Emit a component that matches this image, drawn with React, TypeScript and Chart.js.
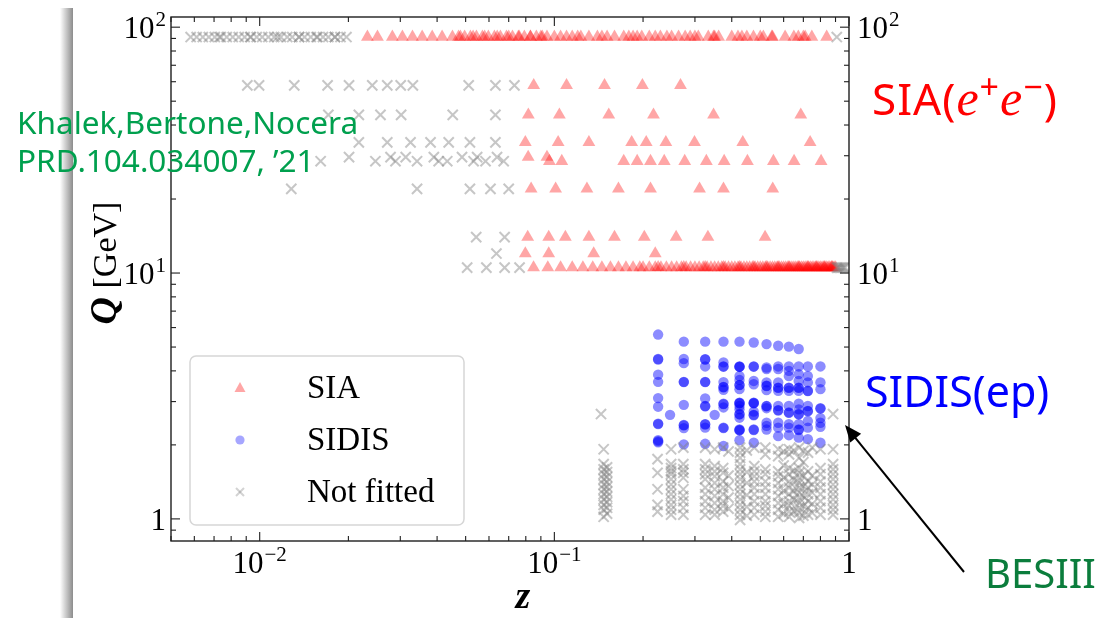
import React, { useEffect, useRef } from 'react';
import { Chart, registerables } from 'chart.js';

Chart.register(...registerables);

const W = 1099;
const H = 618;

// ---------------- axis ranges & tick labels ----------------
const xRange = [0.005, 1];
const yRange = [0.813, 110];
const xTickValues = [0.01, 0.1, 1];
const xTickLabels = [['10', '−2'], ['10', '−1'], ['1', '']];
const yTickValues = [1, 10, 100];
const yTickLabels = [['1', ''], ['10', '1'], ['10', '2']];
const legendLabels = ['SIA', 'SIDIS', 'Not fitted'];

// ---------------- SIA (fitted) rows: z values at fixed Q ----------------
const siaZ_912 = [0.0232, 0.0251, 0.0282, 0.0305, 0.033, 0.0356, 0.0385, 0.0416, 0.0451, 0.0473, 0.048, 0.0496, 0.0519, 0.053, 0.0544, 0.057, 0.058, 0.0597, 0.0626, 0.064, 0.0656, 0.0688, 0.07, 0.0721, 0.0755, 0.076, 0.0791, 0.0829, 0.083, 0.0869, 0.09, 0.091, 0.0944, 0.1, 0.105, 0.11, 0.115, 0.12, 0.123, 0.131, 0.14, 0.145, 0.151, 0.16, 0.172, 0.179, 0.185, 0.191, 0.198, 0.21, 0.22, 0.229, 0.241, 0.25, 0.264, 0.278, 0.289, 0.3, 0.308, 0.333, 0.347, 0.35, 0.361, 0.4, 0.42, 0.433, 0.45, 0.474, 0.5, 0.512, 0.547, 0.55, 0.607, 0.65, 0.673, 0.7, 0.71, 0.748, 0.84];
const siaZ_58 = [0.0851, 0.11, 0.148, 0.199, 0.268];
const siaZ_44 = [0.0816, 0.104, 0.153, 0.217, 0.347, 0.686];
const siaZ_34 = [0.0797, 0.103, 0.131, 0.183, 0.205, 0.239, 0.299, 0.436, 0.738];
const siaZ_296 = [0.0815, 0.0944];
const siaZ_285 = [0.0962, 0.106, 0.172, 0.191, 0.212, 0.236, 0.277, 0.328, 0.377, 0.452, 0.554, 0.651, 0.804];
const siaZ_22 = [0.0834, 0.101, 0.129, 0.165, 0.212, 0.311, 0.375, 0.551];
const siaZ_14 = [0.0812, 0.0957, 0.109, 0.131, 0.16, 0.202, 0.259, 0.332, 0.519];
const siaZ_12 = [0.0797, 0.0957, 0.136, 0.22];
const siaZ_1052 = [0.085, 0.095, 0.105, 0.115, 0.125, 0.135, 0.145, 0.155, 0.165, 0.175, 0.185, 0.195,
  0.2, 0.21, 0.22, 0.23, 0.24, 0.25, 0.26, 0.27, 0.28, 0.29, 0.3, 0.31, 0.32, 0.33, 0.34, 0.35, 0.36, 0.37, 0.38, 0.39,
  0.4, 0.41, 0.42, 0.43, 0.44, 0.45, 0.46, 0.47, 0.48, 0.49, 0.5, 0.51, 0.52, 0.53, 0.54, 0.55, 0.56, 0.57, 0.58, 0.59,
  0.6, 0.61, 0.62, 0.63, 0.64, 0.65, 0.66, 0.67, 0.68, 0.69, 0.7, 0.71, 0.72, 0.73, 0.74, 0.75, 0.76, 0.77, 0.78, 0.79,
  0.8, 0.81, 0.82, 0.83, 0.84, 0.85, 0.86, 0.87, 0.88, 0.89, 0.9];
const siaZ_1054 = [0.225, 0.275, 0.325, 0.375, 0.425, 0.475, 0.525, 0.575, 0.625, 0.675, 0.725, 0.775, 0.825, 0.875];

// ---------------- SIA (not fitted) rows ----------------
const notZ_912 = [0.00583, 0.00611, 0.00641, 0.00672, 0.00704, 0.0073, 0.00738, 0.00773, 0.0081, 0.00849, 0.00889, 0.0093, 0.00932, 0.00977, 0.0102, 0.0107, 0.0112, 0.0115, 0.0118, 0.0124, 0.0129, 0.0136, 0.0136, 0.0142, 0.0149, 0.0156, 0.0157, 0.0164, 0.0171, 0.018, 0.018, 0.0188, 0.0197, 0.909];
const notZ_58 = [0.00908, 0.00995, 0.0131, 0.017, 0.0201, 0.0241, 0.0271, 0.0301, 0.0331, 0.0512, 0.0631, 0.0732];
const notZ_44 = [0.0171, 0.0217, 0.0257, 0.0302, 0.0452, 0.0631];
const notZ_34 = [0.0217, 0.0271, 0.0325, 0.038, 0.0438, 0.0517, 0.0631];
const notZ_296 = [0.0201, 0.0278, 0.0313, 0.039, 0.0486, 0.0547, 0.0639];
const notZ_285 = [0.0161, 0.0247, 0.0289, 0.0342, 0.0405, 0.0433, 0.0532, 0.0584, 0.0673];
const notZ_22 = [0.0128, 0.0342, 0.0517, 0.0607, 0.07];
const notZ_14 = [0.0543, 0.0678];
const notZ_12 = [0.0636];
const notZ_1052 = [0.0506, 0.0588, 0.0678, 0.0762, 0.91, 0.92, 0.93, 0.94, 0.95, 0.96, 0.97];

// ---------------- SIDIS (fitted) columns: Q values at fixed z ----------------
const sidisQ_0225 = [5.62, 4.47, 4.45, 3.86, 3.61, 3.1, 2.86, 2.44, 2.43, 2.09, 2.05, 2.07];
const sidisQ_0247 = [2.65];
const sidisQ_0275 = [5.26, 4.47, 4.3, 3.61, 3.6, 2.91, 2.41, 2.4, 2.34, 2.01];
const sidisQ_0325 = [5.26, 4.46, 4.45, 4.17, 3.61, 3.6, 3.09, 2.88, 2.87, 2.43, 2.42, 2.35, 2.02];
const sidisQ_035 = [2.65];
const sidisQ_0375 = [5.26, 4.33, 4.17, 4.16, 3.6, 3.44, 3.43, 3.35, 2.94, 2.93, 2.84, 2.35, 2.34, 1.98];
const sidisQ_0425 = [5.26, 4.17, 4.16, 4.15, 3.81, 3.67, 3.51, 3.5, 3.37, 2.97, 2.96, 2.95, 2.88, 2.79, 2.67, 2.66, 2.58, 2.31, 2.3, 2.29, 2.09];
const sidisQ_0475 = [5.22, 4.17, 4.16, 3.64, 3.53, 2.97, 2.96, 2.95, 2.73, 2.65, 2.64, 2.31, 2.3, 2.04];
const sidisQ_0525 = [5.14, 4.13, 4.07, 3.59, 3.48, 3.47, 3.34, 2.88, 2.87, 2.82, 2.46, 2.39, 2.31];
const sidisQ_0575 = [5.06, 4.17, 4.07, 3.59, 3.42, 3.41, 3.32, 2.88, 2.77, 2.76, 2.46, 2.35, 2.17];
const sidisQ_0625 = [5.02, 4.17, 4.0, 3.81, 3.42, 3.41, 3.32, 2.88, 2.71, 2.7, 2.43, 2.35, 2.19];
const sidisQ_0675 = [4.91, 4.17, 3.88, 3.64, 3.42, 3.41, 3.32, 2.94, 2.79, 2.67, 2.66, 2.43, 2.31, 2.3, 2.14];
const sidisQ_0725 = [4.17, 3.81, 3.59, 3.32, 3.31, 2.88, 2.75, 2.74, 2.5, 2.35, 2.11];
const sidisQ_08 = [4.17, 3.59, 3.37, 2.82, 2.81, 2.57, 2.46, 2.37, 2.04];

// ---------------- SIDIS (not fitted) columns ----------------
const notQ_0144 = [2.67];
const notQ_0147 = [1.92, 1.67, 1.59, 1.52, 1.45, 1.38, 1.32, 1.26, 1.2, 1.14, 1.09, 1.02];
const notQ_0151 = [1.62, 1.55, 1.48, 1.41, 1.35, 1.29, 1.23, 1.17, 1.11, 1.05];
const notQ_0224 = [1.75, 1.54, 1.32, 1.14, 1.07];
const notQ_0249 = [1.92, 1.67, 1.61, 1.56, 1.52, 1.45, 1.38, 1.32, 1.26, 1.2, 1.14, 1.09, 1.04];
const notQ_0274 = [1.95, 1.67, 1.59, 1.54, 1.47, 1.32, 1.24, 1.18, 1.11, 1.04];
const notQ_0325 = [1.95, 1.67, 1.59, 1.52, 1.45, 1.34, 1.26, 1.18, 1.11, 1.04];
const notQ_035 = [1.92, 1.64, 1.56, 1.49, 1.4, 1.32, 1.24, 1.16, 1.09, 1.04];
const notQ_0374 = [1.95, 1.61, 1.54, 1.42, 1.34, 1.26, 1.18, 1.13, 1.07];
const notQ_039 = [1.88, 1.5, 1.36, 1.22, 1.1];
const notQ_0427 = [1.95, 1.86, 1.77, 1.67, 1.59, 1.52, 1.45, 1.38, 1.32, 1.26, 1.2, 1.14, 1.09, 1.04, 0.99];
const notQ_045 = [1.9, 1.55, 1.4, 1.25, 1.12, 1.03];
const notQ_0477 = [1.95, 1.64, 1.56, 1.49, 1.42, 1.34, 1.26, 1.18, 1.11, 1.04];
const notQ_052 = [1.95, 1.83, 1.59, 1.52, 1.42, 1.34, 1.26, 1.18, 1.13, 1.07, 1.02];
const notQ_0575 = [1.92, 1.8, 1.56, 1.49, 1.4, 1.32, 1.24, 1.16, 1.09, 1.02];
const notQ_06 = [1.88, 1.65, 1.47, 1.3, 1.15, 1.05];
const notQ_0626 = [1.92, 1.83, 1.61, 1.52, 1.42, 1.34, 1.26, 1.18, 1.13, 1.07, 1.02];
const notQ_065 = [1.9, 1.57, 1.44, 1.3, 1.2, 1.08];
const notQ_0677 = [1.95, 1.77, 1.61, 1.54, 1.47, 1.4, 1.34, 1.28, 1.22, 1.16, 1.11, 1.06, 1.01];
const notQ_07 = [1.89, 1.7, 1.5, 1.36, 1.24, 1.13, 1.03];
const notQ_0726 = [1.86, 1.56, 1.42, 1.34, 1.26, 1.18, 1.11, 1.04];
const notQ_075 = [1.95, 1.5, 1.38, 1.28, 1.15, 1.06];
const notQ_08 = [1.92, 1.61, 1.52, 1.42, 1.34, 1.26, 1.18, 1.11, 1.04];
const notQ_0883 = [2.67, 1.92, 1.67, 1.59, 1.52, 1.45, 1.38, 1.32, 1.26, 1.2, 1.14, 1.09, 1.04];

type P = { x: number; y: number };
const row = (zs: number[], q: number): P[] => zs.map((z) => ({ x: z, y: q }));
const col = (z: number, qs: number[]): P[] => qs.map((q) => ({ x: z, y: q }));

const siaPoints: P[] = [
  ...row(siaZ_912, 91.2), ...row(siaZ_58, 58), ...row(siaZ_44, 44), ...row(siaZ_34, 34),
  ...row(siaZ_296, 29.6), ...row(siaZ_285, 28.5), ...row(siaZ_22, 22), ...row(siaZ_14, 14),
  ...row(siaZ_12, 12), ...row(siaZ_1052, 10.52), ...row(siaZ_1054, 10.54),
];

const sidisPoints: P[] = [
  ...col(0.225, sidisQ_0225), ...col(0.247, sidisQ_0247), ...col(0.275, sidisQ_0275),
  ...col(0.325, sidisQ_0325), ...col(0.35, sidisQ_035), ...col(0.375, sidisQ_0375),
  ...col(0.425, sidisQ_0425), ...col(0.475, sidisQ_0475), ...col(0.525, sidisQ_0525),
  ...col(0.575, sidisQ_0575), ...col(0.625, sidisQ_0625), ...col(0.675, sidisQ_0675),
  ...col(0.725, sidisQ_0725), ...col(0.8, sidisQ_08),
];

const notPoints: P[] = [
  ...row(notZ_912, 91.2), ...row(notZ_58, 58), ...row(notZ_44, 44), ...row(notZ_34, 34),
  ...row(notZ_296, 29.6), ...row(notZ_285, 28.5), ...row(notZ_22, 22), ...row(notZ_14, 14),
  ...row(notZ_12, 12), ...row(notZ_1052, 10.52),
  ...col(0.144, notQ_0144), ...col(0.147, notQ_0147), ...col(0.151, notQ_0151),
  ...col(0.224, notQ_0224), ...col(0.249, notQ_0249), ...col(0.274, notQ_0274),
  ...col(0.325, notQ_0325), ...col(0.35, notQ_035), ...col(0.374, notQ_0374),
  ...col(0.39, notQ_039), ...col(0.427, notQ_0427), ...col(0.45, notQ_045),
  ...col(0.477, notQ_0477), ...col(0.52, notQ_052), ...col(0.575, notQ_0575),
  ...col(0.6, notQ_06), ...col(0.626, notQ_0626), ...col(0.65, notQ_065),
  ...col(0.677, notQ_0677), ...col(0.7, notQ_07), ...col(0.726, notQ_0726),
  ...col(0.75, notQ_075), ...col(0.8, notQ_08), ...col(0.883, notQ_0883),
];

const SIA_FILL = 'rgba(255,0,0,0.35)';
const SIDIS_FILL = 'rgba(0,0,255,0.45)';
const NOT_STROKE = 'rgba(128,128,128,0.45)';
const SERIF = '"Liberation Serif", "Times New Roman", serif';

function drawPow(ctx: CanvasRenderingContext2D, base: string, exp: string, x: number, y: number, align: 'left' | 'right' | 'center') {
  ctx.font = `31px ${SERIF}`;
  const wb = ctx.measureText(base).width;
  ctx.font = `21px ${SERIF}`;
  const we = exp ? ctx.measureText(exp).width + 1 : 0;
  const w = wb + we;
  let x0 = x;
  if (align === 'right') x0 = x - w;
  if (align === 'center') x0 = x - w / 2;
  ctx.textAlign = 'left';
  ctx.textBaseline = 'alphabetic';
  ctx.font = `31px ${SERIF}`;
  ctx.fillText(base, x0, y);
  if (exp) {
    ctx.font = `21px ${SERIF}`;
    ctx.fillText(exp, x0 + wb + 1, y - 12);
  }
}

const mplAxes = {
  id: 'mplAxes',
  afterDraw(chart: any) {
    const ctx: CanvasRenderingContext2D = chart.ctx;
    const a = chart.chartArea;
    const xs = chart.scales.x;
    const ys = chart.scales.y;
    ctx.save();
    ctx.strokeStyle = '#1e1e1e';
    ctx.fillStyle = '#000';
    ctx.lineWidth = 1.4;
    ctx.strokeRect(a.left, a.top, a.right - a.left, a.bottom - a.top);
    ctx.lineWidth = 1.1;
    const seg = (x1: number, y1: number, x2: number, y2: number) => {
      ctx.beginPath(); ctx.moveTo(x1, y1); ctx.lineTo(x2, y2); ctx.stroke();
    };
    for (const dec of [0.001, 0.01, 0.1, 1]) {
      for (let m = 1; m <= 9; m++) {
        const v = dec * m;
        if (v < xs.min * 0.999 || v > xs.max * 1.001) continue;
        const p = xs.getPixelForValue(v);
        const L = m === 1 ? 9 : 5;
        seg(p, a.bottom, p, a.bottom - L);
        seg(p, a.top, p, a.top + L);
      }
    }
    for (const dec of [0.1, 1, 10, 100]) {
      for (let m = 1; m <= 9; m++) {
        const v = dec * m;
        if (v < ys.min * 0.999 || v > ys.max * 1.001) continue;
        const p = ys.getPixelForValue(v);
        const L = m === 1 ? 9 : 5;
        seg(a.left, p, a.left + L, p);
        seg(a.right, p, a.right - L, p);
      }
    }
    xTickValues.forEach((v, i) => {
      const p = xs.getPixelForValue(v);
      drawPow(ctx, xTickLabels[i][0], xTickLabels[i][1], p, a.bottom + 32, 'center');
    });
    yTickValues.forEach((v, i) => {
      const p = ys.getPixelForValue(v);
      drawPow(ctx, yTickLabels[i][0], yTickLabels[i][1], a.left - 5, p + 11, 'right');
      drawPow(ctx, yTickLabels[i][0], yTickLabels[i][1], a.right + 8, p + 11, 'left');
    });
    ctx.textBaseline = 'alphabetic';
    ctx.textAlign = 'center';
    ctx.font = `bold italic 38px ${SERIF}`;
    ctx.fillText('z', 523, 608);
    ctx.save();
    ctx.translate(116, 263);
    ctx.rotate(-Math.PI / 2);
    ctx.font = `bold italic 38px ${SERIF}`;
    const wq = ctx.measureText('Q').width;
    ctx.font = `34px ${SERIF}`;
    const wg = ctx.measureText(' [GeV]').width;
    const x0 = -(wq + wg) / 2;
    ctx.textAlign = 'left';
    ctx.font = `bold italic 38px ${SERIF}`;
    ctx.fillText('Q', x0, 0);
    ctx.font = `34px ${SERIF}`;
    ctx.fillText(' [GeV]', x0 + wq, 0);
    ctx.restore();

    // legend
    const lx = 190, ly = 356, lw = 274, lh = 169, r = 6;
    ctx.beginPath();
    ctx.moveTo(lx + r, ly);
    ctx.arcTo(lx + lw, ly, lx + lw, ly + lh, r);
    ctx.arcTo(lx + lw, ly + lh, lx, ly + lh, r);
    ctx.arcTo(lx, ly + lh, lx, ly, r);
    ctx.arcTo(lx, ly, lx + lw, ly, r);
    ctx.closePath();
    ctx.fillStyle = 'rgba(255,255,255,0.85)';
    ctx.fill();
    ctx.strokeStyle = '#d6d6d6';
    ctx.lineWidth = 1.5;
    ctx.stroke();
    const mx = 240;
    ctx.fillStyle = SIA_FILL;
    ctx.beginPath();
    ctx.moveTo(mx, 382); ctx.lineTo(mx + 5.5, 392); ctx.lineTo(mx - 5.5, 392); ctx.closePath();
    ctx.fill();
    ctx.fillStyle = 'rgba(0,0,255,0.35)';
    ctx.beginPath(); ctx.arc(mx, 440, 4.6, 0, Math.PI * 2); ctx.fill();
    ctx.strokeStyle = 'rgba(128,128,128,0.35)';
    ctx.lineWidth = 2;
    seg(mx - 4, 488, mx + 4, 496);
    seg(mx - 4, 496, mx + 4, 488);
    ctx.fillStyle = '#000';
    ctx.font = `33px ${SERIF}`;
    ctx.textAlign = 'left';
    ctx.fillText(legendLabels[0], 307, 398);
    ctx.fillText(legendLabels[1], 307, 450);
    ctx.fillText(legendLabels[2], 307, 502);

    // arrow (BESIII annotation)
    ctx.strokeStyle = '#000';
    ctx.fillStyle = '#000';
    ctx.lineWidth = 2;
    const tx = 845, ty = 425, sx = 964, sy = 572;
    const ang = Math.atan2(ty - sy, tx - sx);
    seg(sx, sy, tx - Math.cos(ang) * 10, ty - Math.sin(ang) * 10);
    ctx.beginPath();
    ctx.moveTo(tx, ty);
    ctx.lineTo(tx - Math.cos(ang) * 17 + Math.sin(ang) * 7, ty - Math.sin(ang) * 17 - Math.cos(ang) * 7);
    ctx.lineTo(tx - Math.cos(ang) * 17 - Math.sin(ang) * 7, ty - Math.sin(ang) * 17 + Math.cos(ang) * 7);
    ctx.closePath();
    ctx.fill();
    ctx.restore();
  },
};

export default function App() {
  const ref = useRef<HTMLCanvasElement>(null);
  useEffect(() => {
    if (!ref.current) return;
    const chart = new Chart(ref.current, {
      type: 'scatter',
      data: {
        datasets: [
          {
            label: legendLabels[2],
            data: notPoints,
            pointStyle: 'crossRot',
            pointRadius: 7.2,
            borderColor: NOT_STROKE,
            backgroundColor: NOT_STROKE,
            borderWidth: 2,
            order: 0,
          },
          {
            label: legendLabels[1],
            data: sidisPoints,
            pointStyle: 'circle',
            pointRadius: 5.2,
            backgroundColor: SIDIS_FILL,
            borderWidth: 0,
            order: 1,
          },
          {
            label: legendLabels[0],
            data: siaPoints,
            pointStyle: 'triangle',
            pointRadius: 7.4,
            backgroundColor: SIA_FILL,
            borderWidth: 0,
            order: 2,
          },
        ],
      },
      options: {
        animation: false,
        responsive: false,
        devicePixelRatio: 1,
        events: [],
        layout: { padding: { left: 171, right: 250, top: 17, bottom: 77 } },
        plugins: { legend: { display: false }, tooltip: { enabled: false } },
        scales: {
          x: { type: 'logarithmic', min: xRange[0], max: xRange[1], display: false },
          y: { type: 'logarithmic', min: yRange[0], max: yRange[1], display: false },
        },
      },
      plugins: [mplAxes],
    } as any);
    return () => chart.destroy();
  }, []);

  const sans = '"Noto Sans", "Open Sans", sans-serif';
  return (
    <div style={{ position: 'absolute', left: 0, top: 0, width: W, height: H, background: '#fff', overflow: 'hidden' }}>
      <div style={{ position: 'absolute', left: 60, top: 8, width: 13, height: 610, background: 'linear-gradient(to right, rgba(150,150,150,0), rgba(120,120,120,0.85))' }} />
      <canvas ref={ref} width={W} height={H} style={{ position: 'absolute', left: 0, top: 0, width: W, height: H }} />
      <div style={{ position: 'absolute', left: 17, top: 103, font: `31.5px ${sans}`, lineHeight: '38px', color: '#00a04e', whiteSpace: 'nowrap' }}>
        <div>Khalek,Bertone,Nocera</div>
        <div>PRD.104.034007, ’21</div>
      </div>
      <div style={{ position: 'absolute', left: 872, top: 76, font: `44px ${sans}`, lineHeight: '44px', color: '#ff0000', whiteSpace: 'nowrap', letterSpacing: 1 }}>
        SIA(<span style={{ fontFamily: SERIF, fontStyle: 'italic', fontSize: 50 }}>e</span>
        <span style={{ fontSize: 34, position: 'relative', top: -16 }}>+</span>
        <span style={{ fontFamily: SERIF, fontStyle: 'italic', fontSize: 50 }}>e</span>
        <span style={{ fontSize: 34, position: 'relative', top: -16 }}>−</span>)
      </div>
      <div style={{ position: 'absolute', left: 865, top: 369, font: `43px ${sans}`, lineHeight: '43px', color: '#0000ff', whiteSpace: 'nowrap' }}>
        SIDIS(ep)
      </div>
      <div style={{ position: 'absolute', left: 985, top: 553, font: `40px ${sans}`, lineHeight: '40px', color: '#0b7d3c', whiteSpace: 'nowrap' }}>
        BESIII
      </div>
    </div>
  );
}
